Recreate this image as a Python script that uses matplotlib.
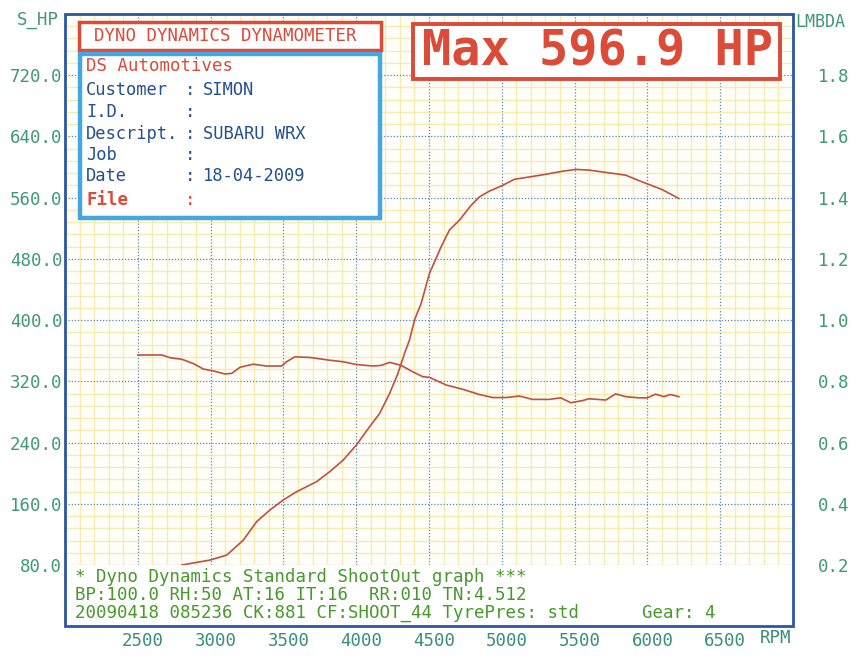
import matplotlib
matplotlib.use("Agg")
import matplotlib.pyplot as plt
from matplotlib.patches import Rectangle
from matplotlib.transforms import ScaledTranslation
import numpy as np

# ---------------- data ----------------
hp_rpm = [2803, 2997, 3111, 3225, 3316, 3408, 3499, 3590, 3727, 3818, 3910, 4001,
          4092, 4161, 4229, 4286, 4332, 4366, 4402, 4446, 4503, 4538, 4583, 4640,
          4709, 4789, 4846, 4914, 5005, 5086, 5188, 5303, 5416, 5508, 5599, 5714,
          5851, 5964, 6101, 6216]
hp_vals = [80, 86.5, 93, 112.6, 136.6, 152, 165, 175.7, 188.8, 201.9, 217, 236.7,
           260.7, 278, 304, 330, 356.5, 374, 401, 421.7, 461, 476, 495.7, 517.6,
           530.6, 550, 561, 568.5, 576, 584, 587, 590.6, 594.5, 596.9, 596, 593,
           589.4, 580.6, 570.6, 559]

lam_rpm = [2500, 2666, 2723, 2803, 2882, 2951, 3019, 3099, 3145, 3202, 3293, 3385,
           3488, 3522, 3579, 3682, 3818, 3910, 4001, 4115, 4172, 4229, 4309, 4389,
           4458, 4503, 4618, 4732, 4846, 4938, 5029, 5120, 5211, 5325, 5405, 5474,
           5553, 5599, 5714, 5782, 5851, 5942, 5999, 6056, 6113, 6159, 6216]
lam_vals = [0.886, 0.886, 0.877, 0.872, 0.858, 0.840, 0.834, 0.824, 0.826, 0.846,
            0.856, 0.850, 0.850, 0.864, 0.880, 0.878, 0.869, 0.864, 0.855, 0.850,
            0.852, 0.862, 0.852, 0.831, 0.815, 0.813, 0.788, 0.774, 0.757, 0.747,
            0.747, 0.752, 0.741, 0.741, 0.746, 0.730, 0.737, 0.743, 0.739, 0.759,
            0.750, 0.746, 0.746, 0.758, 0.750, 0.757, 0.750]

x_ticks = [2500, 3000, 3500, 4000, 4500, 5000, 5500, 6000, 6500]
x_labels = ["2500", "3000", "3500", "4000", "4500", "5000", "5500", "6000", "6500"]
hp_ticks = [80, 160, 240, 320, 400, 480, 560, 640, 720]
hp_labels = ["80.0", "160.0", "240.0", "320.0", "400.0", "480.0", "560.0", "640.0", "720.0"]
lam_ticks = [0.2, 0.4, 0.6, 0.8, 1.0, 1.2, 1.4, 1.6, 1.8]
lam_labels = ["0.2", "0.4", "0.6", "0.8", "1.0", "1.2", "1.4", "1.6", "1.8"]

info_labels = ["Customer", "I.D.", "Descript.", "Job", "Date"]
info_values = ["SIMON", "", "SUBARU WRX", "", "18-04-2009"]
footer_lines = ["* Dyno Dynamics Standard ShootOut graph ***",
                "BP:100.0 RH:50 AT:16 IT:16  RR:010 TN:4.512",
                "20090418 085236 CK:881 CF:SHOOT_44 TyrePres: std      Gear: 4"]
max_hp = 596.9

# ---------------- style ----------------
W, H = 865, 667
MONO = "DejaVu Sans Mono"
C_CURVE = "#c2503c"
C_MAJOR = "#5a86b8"
C_MINOR = "#f1e89a"
C_TICK = "#3e9a74"
C_XTICK = "#3a8c7c"
C_FOOT = "#47992a"
C_RED = "#dc4a38"
C_BLUE_TXT = "#24508f"
C_BOX_BLUE = "#45a6e4"
C_FRAME = "#2c56a0"

def fx(x):
    return x / W

def fy(y):
    return 1 - y / H

fig = plt.figure(figsize=(W / 100, H / 100), dpi=100, facecolor="white")

left, right, top, bottom = 65, 793, 14, 565
ax = fig.add_axes([fx(left), fy(bottom), fx(right) - fx(left), (bottom - top) / H])
ax.set_facecolor("#fffef8")
ax.set_xlim(2000, 7000)
ax.set_ylim(80, 800)

ax.set_xticks(x_ticks)
ax.set_xticklabels(x_labels)
ax.set_xticks(np.arange(2000, 7001, 100), minor=True)
ax.set_yticks(hp_ticks)
ax.set_yticklabels(hp_labels)
ax.set_yticks(np.arange(80, 801, 16), minor=True)

ax.grid(which="minor", color=C_MINOR, linewidth=1.0, linestyle="-", alpha=0.75)
ax.grid(which="major", color=C_MAJOR, linewidth=0.9, linestyle=(0, (1, 1.5)))
ax.set_axisbelow(True)

for s in ax.spines.values():
    s.set_visible(False)

ax.tick_params(axis="both", which="both", length=0)
ax.tick_params(axis="y", pad=2, labelsize=12.5, labelcolor=C_TICK)
ax.tick_params(axis="x", pad=48, labelsize=12.5, labelcolor=C_XTICK)
for lab in ax.get_yticklabels() + ax.get_xticklabels():
    lab.set_family(MONO)
off = ScaledTranslation(5 / 100, 0, fig.dpi_scale_trans)
for lab in ax.get_xticklabels():
    lab.set_transform(lab.get_transform() + off)

ax.plot(hp_rpm, hp_vals, color=C_CURVE, linewidth=1.2, zorder=3)

ax2 = ax.twinx()
ax2.set_ylim(80 / 400, 800 / 400)
ax2.set_yticks(lam_ticks)
ax2.set_yticklabels(lam_labels)
for s in ax2.spines.values():
    s.set_visible(False)
ax2.tick_params(axis="y", length=0, pad=18, labelsize=12.5, labelcolor=C_TICK)
for lab in ax2.get_yticklabels():
    lab.set_family(MONO)
ax2.plot(lam_rpm, lam_vals, color=C_CURVE, linewidth=1.2, zorder=3)

# outer frame
fig.add_artist(Rectangle((fx(left), fy(626)), fx(right) - fx(left), (626 - top) / H,
                         transform=fig.transFigure, fill=False, edgecolor=C_FRAME,
                         linewidth=2.0, zorder=10))

# axis titles
fig.text(fx(59), fy(20), "S_HP", ha="right", va="center", family=MONO,
         fontsize=12.5, color=C_TICK)
fig.text(fx(795), fy(22), "LMBDA", ha="left", va="center", family=MONO,
         fontsize=12, color=C_TICK)
fig.text(fx(791), fy(638), "RPM", ha="right", va="center", family=MONO,
         fontsize=12.5, color=C_XTICK)

# header box
fig.add_artist(Rectangle((fx(79), fy(50)), fx(381) - fx(79), (50 - 22) / H,
                         transform=fig.transFigure, facecolor="white",
                         edgecolor=C_RED, linewidth=2.5, zorder=11))
fig.text(fx(225), fy(36), "DYNO DYNAMICS DYNAMOMETER", ha="center", va="center",
         family=MONO, fontsize=12.5, color=C_RED, zorder=12)

# info box
fig.add_artist(Rectangle((fx(80), fy(218)), fx(380) - fx(80), (218 - 54) / H,
                         transform=fig.transFigure, facecolor="white",
                         edgecolor=C_BOX_BLUE, linewidth=3.2, zorder=11))
fig.text(fx(86), fy(66), "DS Automotives", ha="left", va="center", family=MONO,
         fontsize=12.5, color=C_RED, zorder=12)
ys = [90, 112, 134, 155, 176]
for lbl, val, yy in zip(info_labels, info_values, ys):
    fig.text(fx(86), fy(yy), lbl, ha="left", va="center", family=MONO,
             fontsize=12.3, color=C_BLUE_TXT, zorder=12)
    fig.text(fx(185), fy(yy), ":", ha="left", va="center", family=MONO,
             fontsize=12.3, color=C_BLUE_TXT, zorder=12)
    if val:
        fig.text(fx(203), fy(yy), val, ha="left", va="center", family=MONO,
                 fontsize=12.3, color=C_BLUE_TXT, zorder=12)
fig.text(fx(86), fy(200), "File", ha="left", va="center", family=MONO,
         fontsize=12.5, color=C_RED, fontweight="bold", zorder=12)
fig.text(fx(185), fy(200), ":", ha="left", va="center", family=MONO,
         fontsize=12.3, color=C_RED, zorder=12)

# max box
fig.add_artist(Rectangle((fx(413), fy(79)), fx(780) - fx(413), (79 - 24) / H,
                         transform=fig.transFigure, facecolor="white",
                         edgecolor=C_RED, linewidth=2.8, zorder=11))
fig.text(fx(597), fy(52), f"Max {max_hp:.1f} HP", ha="center", va="center",
         family=MONO, fontsize=35, fontweight="bold", color=C_RED, zorder=12)

# footer
for line, yy in zip(footer_lines, [577, 595, 613]):
    fig.text(fx(75), fy(yy), line, ha="left", va="center", family=MONO,
             fontsize=12.5, color=C_FOOT, zorder=12)

fig.savefig("out.png", dpi=100, facecolor="white")
